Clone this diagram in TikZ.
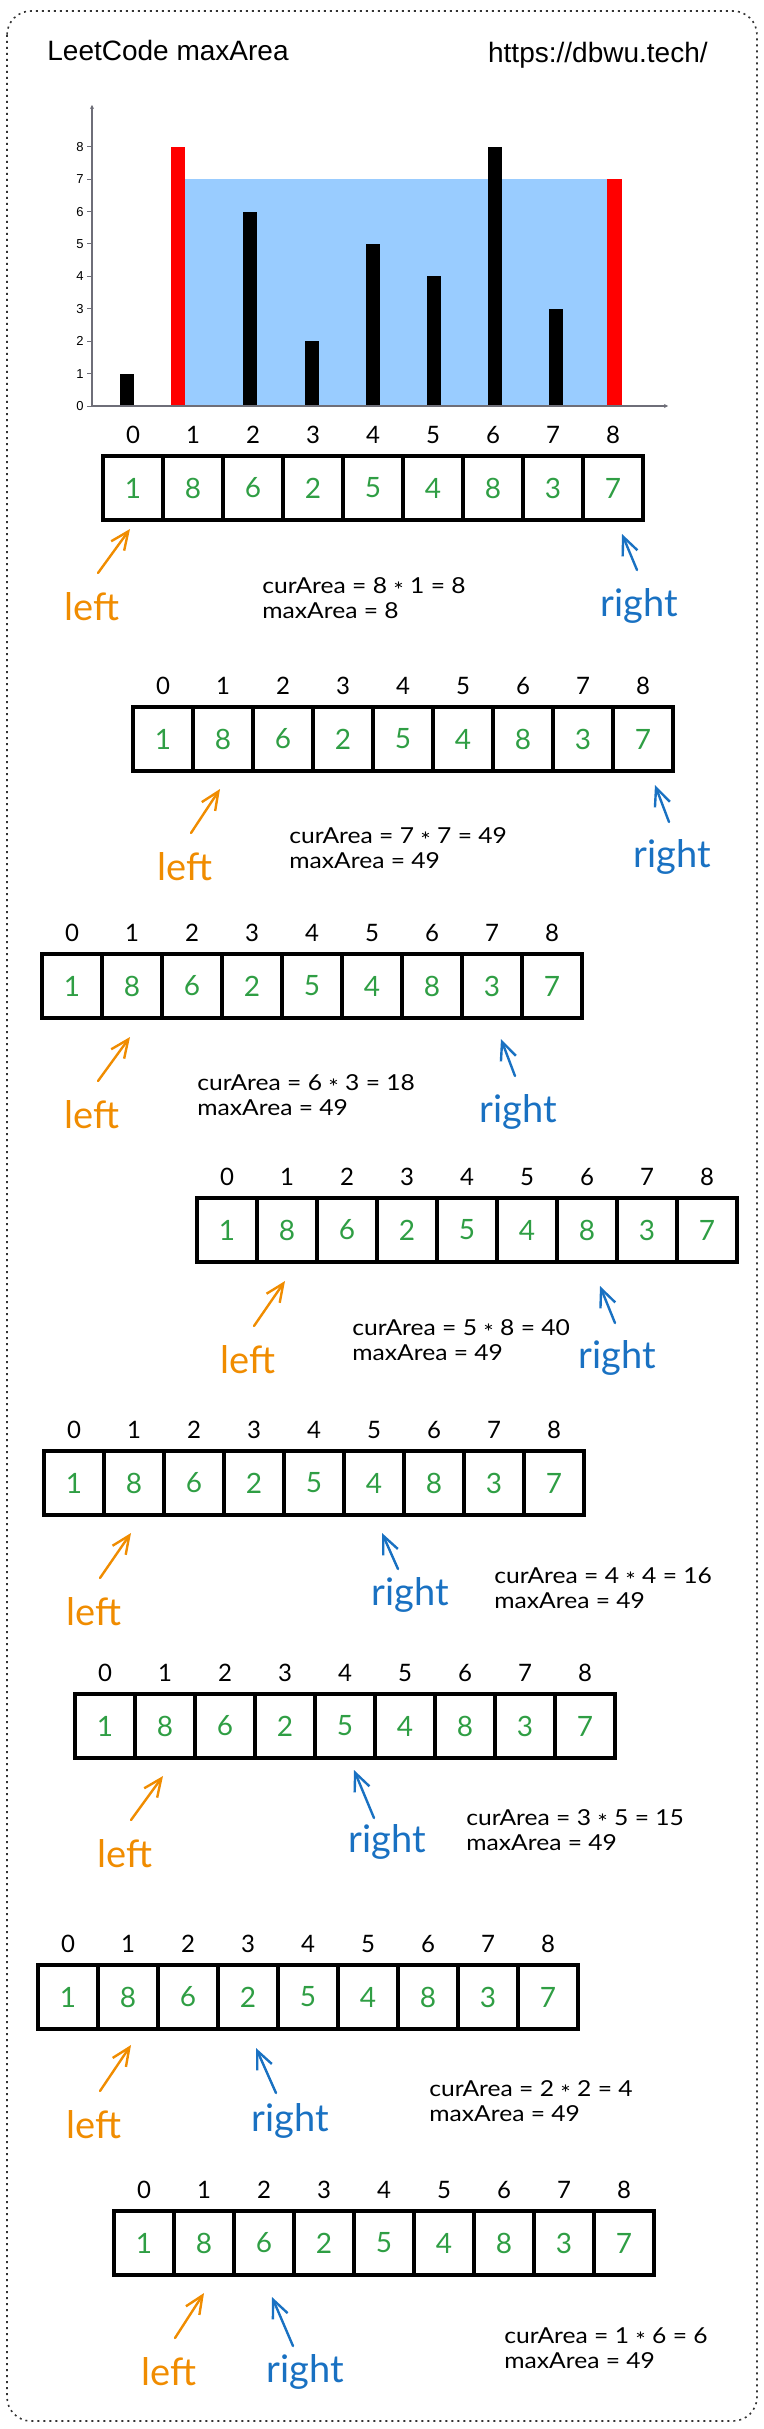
\documentclass[tikz,border=0pt]{standalone}
\usepackage{fontspec}
\setmainfont{Lato}
\newfontfamily\titlefont{Liberation Sans}
\newfontfamily\handfont[FakeStretch=1.12]{Lato}
\usepackage{tikz}
\usetikzlibrary{arrows.meta, positioning, calc}
\definecolor{ptrorange}{RGB}{240,140,0}
\definecolor{ptrblue}{RGB}{25,113,194}
\definecolor{valgreen}{RGB}{47,158,68}
\definecolor{areablue}{RGB}{153,204,255}
\definecolor{barred}{RGB}{255,0,0}
\definecolor{axisgray}{RGB}{110,110,120}
\tikzstyle{cell} = [rectangle, draw=black, line width=2pt, minimum width=30pt, minimum height=32pt, inner sep=0pt, text=valgreen, font=\fontsize{14}{14}\selectfont]
\tikzstyle{idx} = [inner sep=0pt, font=\fontsize{12}{12}\selectfont]
\tikzstyle{leftlbl} = [anchor=base, inner sep=0pt, text=ptrorange, font=\fontsize{19}{19}\selectfont]
\tikzstyle{rightlbl} = [anchor=base, inner sep=0pt, text=ptrblue, font=\fontsize{19}{19}\selectfont]
\tikzstyle{lptr} = [draw=ptrorange, line width=1.2pt, line cap=round, -{Straight Barb[length=9pt,width=8pt]}]
\tikzstyle{rptr} = [draw=ptrblue, line width=1.2pt, line cap=round, -{Straight Barb[length=9pt,width=8pt]}]
\tikzstyle{areatext} = [anchor=west, align=left, inner sep=0pt, font=\handfont\fontsize{11}{12.5}\selectfont]
\tikzstyle{ticklbl} = [inner sep=0pt, font=\titlefont\fontsize{6.5}{7}\selectfont]
\tikzstyle{axis} = [draw=axisgray, line width=0.75pt]
\newcommand{\timesstar}{\raisebox{-0.5ex}{*}}
% one row of heights with its indices: name, left x, top y
\newcommand{\heightrow}[3]{%
  \foreach \v [count=\i from 0] in {1,8,6,2,5,4,8,3,7} {
    \node[cell] (#1c\i) at ({#2+30+60*\i}, {#3+32}) {\v};
    \node[idx] (#1i\i) at ({#2+30+60*\i}, {#3-21}) {\i};
  }%
}

\begin{document}
\begin{tikzpicture}[x=0.5pt, y=-0.5pt]
    \useasboundingbox (0,0) rectangle (764,2429);
    \draw[black!80, line width=0.8pt, dash pattern=on 1pt off 2pt, rounded corners=12pt] (7,11) rectangle (757,2421);

    % Header
    \node[anchor=base west, inner sep=0pt, font=\titlefont\fontsize{14}{15}\selectfont] (title) at (47,61) {LeetCode maxArea};
    \node[anchor=base east, inner sep=0pt, font=\titlefont\fontsize{14}{15}\selectfont] (url) at (708,63) {https://dbwu.tech/};

    % Chart
    \fill[areablue] (185,179) rectangle (607,406);
    \foreach \x/\h in {127/1, 250/6, 312/2, 373/5, 434/4, 495/8, 556/3}
        \fill[black] ({\x-7},406) rectangle ({\x+7},{406-32.4*\h});
    \fill[barred] (171,406) rectangle (185,147);
    \fill[barred] (607,406) rectangle (622,179);
    \draw[axis, -{Stealth[length=2pt,width=2pt]}] (92,406) -- (92,105);
    \draw[axis, -{Stealth[length=2pt,width=2pt]}] (92,406) -- (668,406);
    \foreach \t in {0,...,8} {
        \draw[axis, line width=0.5pt] (87,{406-32.4*\t}) -- (92,{406-32.4*\t});
        \node[ticklbl] (tick\t) at (80,{406-32.4*\t}) {\t};
    }

    % Step 1
    \heightrow{a}{103}{456}
    \node[leftlbl] (aL) at (92,620) {left};
    \node[rightlbl] (aR) at (639,616) {right};
    \draw[lptr] ([shift={(6,-47)}]aL.base) -- ([shift={(-3,7)}]ac0.south);
    \draw[rptr] ([shift={(-2,-46)}]aR.base) -- ([shift={(9,12)}]ac8.south);
    \node[areatext] (aT) at (262,598) {curArea = 8 \timesstar{} 1 = 8\\maxArea = 8};

    % Step 2
    \heightrow{b}{133}{707}
    \node[leftlbl] (bL) at (185,880) {left};
    \node[rightlbl] (bR) at (672,867) {right};
    \draw[lptr] ([shift={(6,-47)}]bL.base) -- ([shift={(-3,16)}]bc1.south);
    \draw[rptr] ([shift={(-3,-45)}]bR.base) -- ([shift={(12,12)}]bc8.south);
    \node[areatext] (bT) at (289,848) {curArea = 7 \timesstar{} 7 = 49\\maxArea = 49};

    % Step 3
    \heightrow{c}{42}{954}
    \node[leftlbl] (cL) at (92,1128) {left};
    \node[rightlbl] (cR) at (518,1122) {right};
    \draw[lptr] ([shift={(6,-47)}]cL.base) -- ([shift={(-2,17)}]cc1.south);
    \draw[rptr] ([shift={(-3,-46)}]cR.base) -- ([shift={(9,19)}]cc7.south);
    \node[areatext] (cT) at (197,1095) {curArea = 6 \timesstar{} 3 = 18\\maxArea = 49};

    % Step 4
    \heightrow{d}{197}{1198}
    \node[leftlbl] (dL) at (248,1373) {left};
    \node[rightlbl] (dR) at (617,1368) {right};
    \draw[lptr] ([shift={(6,-47)}]dL.base) -- ([shift={(-2,17)}]dc1.south);
    \draw[rptr] ([shift={(-2,-45)}]dR.base) -- ([shift={(13,22)}]dc6.south);
    \node[areatext] (dT) at (352,1340) {curArea = 5 \timesstar{} 8 = 40\\maxArea = 49};

    % Step 5
    \heightrow{e}{44}{1451}
    \node[leftlbl] (eL) at (94,1625) {left};
    \node[rightlbl] (eR) at (410,1605) {right};
    \draw[lptr] ([shift={(6,-47)}]eL.base) -- ([shift={(-3,16)}]ec1.south);
    \draw[rptr] ([shift={(-12,-36)}]eR.base) -- ([shift={(8,16)}]ec5.south);
    \node[areatext] (eT) at (494,1588) {curArea = 4 \timesstar{} 4 = 16\\maxArea = 49};

    % Step 6
    \heightrow{f}{75}{1694}
    \node[leftlbl] (fL) at (125,1867) {left};
    \node[rightlbl] (fR) at (387,1852) {right};
    \draw[lptr] ([shift={(6,-47)}]fL.base) -- ([shift={(-2,16)}]fc1.south);
    \draw[rptr] ([shift={(-13,-34)}]fR.base) -- ([shift={(9,10)}]fc4.south);
    \node[areatext] (fT) at (466,1830) {curArea = 3 \timesstar{} 5 = 15\\maxArea = 49};

    % Step 7
    \heightrow{g}{38}{1965}
    \node[leftlbl] (gL) at (94,2138) {left};
    \node[rightlbl] (gR) at (290,2131) {right};
    \draw[lptr] ([shift={(6,-47)}]gL.base) -- ([shift={(3,14)}]gc1.south);
    \draw[rptr] ([shift={(-14,-38)}]gR.base) -- ([shift={(8,17)}]gc3.south);
    \node[areatext] (gT) at (429,2101) {curArea = 2 \timesstar{} 2 = 4\\maxArea = 49};

    % Step 8
    \heightrow{h}{114}{2211}
    \node[leftlbl] (hL) at (169,2385) {left};
    \node[rightlbl] (hR) at (305,2382) {right};
    \draw[lptr] ([shift={(6,-47)}]hL.base) -- ([shift={(0,16)}]hc1.south);
    \draw[rptr] ([shift={(-12,-36)}]hR.base) -- ([shift={(8,20)}]hc2.south);
    \node[areatext] (hT) at (504,2348) {curArea = 1 \timesstar{} 6 = 6\\maxArea = 49};
\end{tikzpicture}
\end{document}
